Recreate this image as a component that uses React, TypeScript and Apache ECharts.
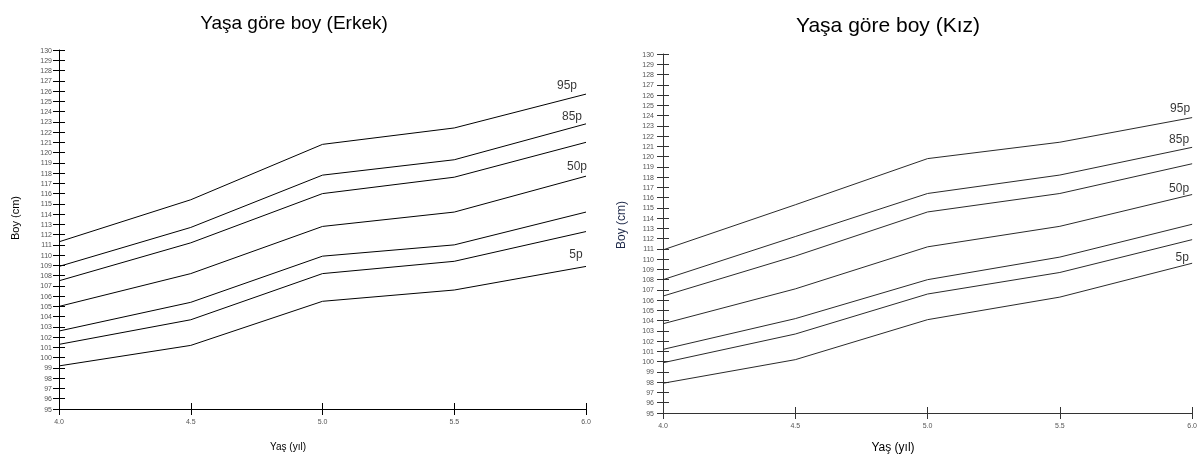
import React, { useEffect, useRef } from "react";
import * as echarts from "echarts";

const ages = [4.0, 4.5, 5.0, 5.5, 6.0];
const percentileNames = ["95p", "85p", "75p", "50p", "25p", "15p", "5p"];
const labeledPercentiles = ["95p", "85p", "50p", "5p"];

const boysP95 = [111.3, 115.4, 120.8, 122.4, 125.7];
const boysP85 = [108.9, 112.7, 117.8, 119.3, 122.8];
const boysP75 = [107.5, 111.2, 116.0, 117.6, 121.0];
const boysP50 = [105.0, 108.2, 112.8, 114.2, 117.7];
const boysP25 = [102.6, 105.4, 109.9, 111.0, 114.2];
const boysP15 = [101.3, 103.7, 108.2, 109.4, 112.3];
const boysP5 = [99.2, 101.2, 105.5, 106.6, 108.9];

const girlsP95 = [110.9, 115.3, 119.8, 121.4, 123.8];
const girlsP85 = [108.0, 112.2, 116.4, 118.2, 120.9];
const girlsP75 = [106.4, 110.3, 114.6, 116.4, 119.3];
const girlsP50 = [103.7, 107.1, 111.2, 113.2, 116.3];
const girlsP25 = [101.2, 104.2, 108.0, 110.2, 113.4];
const girlsP15 = [99.9, 102.7, 106.6, 108.7, 111.9];
const girlsP5 = [97.9, 100.2, 104.1, 106.3, 109.6];

const boysSeries = [boysP95, boysP85, boysP75, boysP50, boysP25, boysP15, boysP5];
const girlsSeries = [girlsP95, girlsP85, girlsP75, girlsP50, girlsP25, girlsP15, girlsP5];

const boysLabelOffsets: Record<string, number[]> = {
  "95p": [-19, 2],
  "85p": [-14, 3],
  "50p": [-9, 1],
  "5p": [-10, -1],
};
const girlsLabelOffsets: Record<string, number[]> = {
  "95p": [-12, 1],
  "85p": [-13, 3],
  "50p": [-13, 4],
  "5p": [-10, 5],
};

const FONT = "Liberation Sans, Arial, sans-serif";

function makeAxes(gridIndex: number, color: string, yMargin: number) {
  const xMain = {
    type: "value",
    gridIndex,
    position: "bottom",
    min: 4,
    max: 6,
    interval: 0.5,
    axisLine: { show: true, lineStyle: { color, width: 1 } },
    axisTick: { show: true, length: 6, lineStyle: { color } },
    axisLabel: {
      show: true,
      fontSize: 7,
      color: "#555",
      margin: 9,
      fontFamily: FONT,
      formatter: (v: number) => v.toFixed(1),
    },
    splitLine: { show: false },
  };
  const xInner = {
    type: "value",
    gridIndex,
    position: "bottom",
    min: 4,
    max: 6,
    interval: 0.5,
    axisLine: { show: false },
    axisTick: { show: true, inside: true, length: 6, lineStyle: { color } },
    axisLabel: { show: false },
    splitLine: { show: false },
  };
  const yMain = {
    type: "value",
    gridIndex,
    position: "left",
    min: 95,
    max: 130,
    interval: 1,
    axisLine: { show: true, lineStyle: { color, width: 1 } },
    axisTick: { show: true, length: 6, lineStyle: { color } },
    axisLabel: {
      show: true,
      fontSize: 7,
      color: "#555",
      margin: yMargin,
      fontFamily: FONT,
    },
    splitLine: { show: false },
  };
  const yInner = {
    type: "value",
    gridIndex,
    position: "left",
    min: 95,
    max: 130,
    interval: 1,
    axisLine: { show: false },
    axisTick: { show: true, inside: true, length: 6, lineStyle: { color } },
    axisLabel: { show: false },
    splitLine: { show: false },
  };
  return { x: [xMain, xInner], y: [yMain, yInner] };
}

export default function App() {
  const ref = useRef<HTMLDivElement>(null);

  useEffect(() => {
    if (!ref.current) return;
    const chart = echarts.init(ref.current, undefined, { renderer: "svg" });

    const a0 = makeAxes(0, "#000", 7);
    const a1 = makeAxes(1, "#333", 9);

    const series: any[] = [];
    const addChart = (
      data: number[][],
      xIdx: number,
      yIdx: number,
      color: string,
      offsets: Record<string, number[]>
    ) => {
      data.forEach((vals, i) => {
        series.push({
          type: "line",
          name: percentileNames[i],
          xAxisIndex: xIdx,
          yAxisIndex: yIdx,
          data: ages.map((a, j) => [a, vals[j]]),
          showSymbol: false,
          symbol: "none",
          lineStyle: { color, width: 1 },
          silent: true,
        });
      });
      series.push({
        type: "scatter",
        xAxisIndex: xIdx,
        yAxisIndex: yIdx,
        symbolSize: 0,
        silent: true,
        data: labeledPercentiles.map((name) => {
          const idx = percentileNames.indexOf(name);
          const vals = data[idx];
          return {
            value: [ages[ages.length - 1], vals[vals.length - 1]],
            label: {
              show: true,
              position: "top",
              formatter: name,
              offset: offsets[name],
              fontSize: 12,
              color: "#000",
              fontFamily: FONT,
            },
          };
        }),
      });
    };

    addChart(boysSeries, 0, 0, "#000", boysLabelOffsets);
    addChart(girlsSeries, 2, 2, "#2a2a2a", girlsLabelOffsets);

    chart.setOption({
      animation: false,
      grid: [
        { left: 59, top: 50, width: 527, height: 359 },
        { left: 663, top: 54, width: 531, height: 359 },
      ],
      xAxis: [...a0.x, ...a1.x],
      yAxis: [...a0.y, ...a1.y],
      series,
      graphic: [
        {
          type: "text",
          x: 294,
          y: 22,
          style: {
            text: "Yaşa göre boy (Erkek)",
            textAlign: "center",
            textVerticalAlign: "middle",
            fontSize: 19,
            fontFamily: FONT,
            fill: "#000",
          },
        },
        {
          type: "text",
          x: 888,
          y: 24,
          style: {
            text: "Yaşa göre boy (Kız)",
            textAlign: "center",
            textVerticalAlign: "middle",
            fontSize: 21,
            fontFamily: FONT,
            fill: "#000",
          },
        },
        {
          type: "text",
          x: 15,
          y: 218,
          rotation: Math.PI / 2,
          style: {
            text: "Boy (cm)",
            textAlign: "center",
            textVerticalAlign: "middle",
            fontSize: 11,
            fontFamily: FONT,
            fill: "#000",
          },
        },
        {
          type: "text",
          x: 621,
          y: 225,
          rotation: Math.PI / 2,
          style: {
            text: "Boy (cm)",
            textAlign: "center",
            textVerticalAlign: "middle",
            fontSize: 12,
            fontFamily: FONT,
            fill: "#1f2a4a",
          },
        },
        {
          type: "text",
          x: 288,
          y: 446,
          style: {
            text: "Yaş (yıl)",
            textAlign: "center",
            textVerticalAlign: "middle",
            fontSize: 10,
            fontFamily: FONT,
            fill: "#000",
          },
        },
        {
          type: "text",
          x: 893,
          y: 447,
          style: {
            text: "Yaş (yıl)",
            textAlign: "center",
            textVerticalAlign: "middle",
            fontSize: 12,
            fontFamily: FONT,
            fill: "#000",
          },
        },
      ],
    });

    return () => chart.dispose();
  }, []);

  return (
    <div
      ref={ref}
      style={{ position: "fixed", left: 0, top: 0, width: 1200, height: 457 }}
    />
  );
}
